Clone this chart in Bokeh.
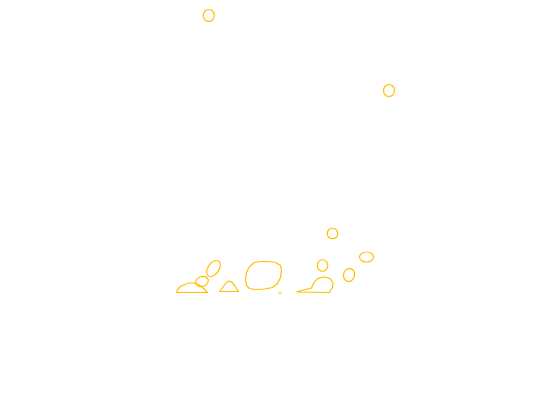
from bokeh.plotting import figure
from bokeh.models import Range1d, ColumnDataSource
from bokeh.embed import file_html
from bokeh.resources import INLINE

# Contour level outlines (data units)
ell_x = [200.3, 380.5, 324.0, 358.0, 340.5, 314.0, 193.5, 205.0]
ell_y = [377.0, 302.0, 159.0, 135.5, 117.5, 127.0, 111.0, 124.0]
ell_w = [11.0, 11.0, 10.5, 14.0, 13.0, 10.5, 13.0, 18.0]
ell_h = [12.0, 12.0, 10.5, 10.0, 11.0, 11.5, 10.0, 11.0]
ell_a = [0.0, 0.0, 0.0, 0.0, 1.33, 0.0, 0.35, 0.95]

dome_x = [168, 169, 172, 176, 181, 186, 190, 194, 197, 199, 168]
dome_y = [100, 103, 106, 108, 109.5, 109.5, 108, 105, 102, 100, 100]

tri_x = [211, 214, 218, 220.5, 223, 226, 230, 211]
tri_y = [101, 105, 110, 111.5, 110.5, 107, 101, 101]

blob_x = [237, 238, 241, 246, 252, 260, 267, 272, 273, 272, 269, 264, 256, 247, 241, 238, 237]
blob_y = [113, 120, 126, 130, 131, 131, 130, 127, 122, 115, 109, 105, 103.5, 103, 104, 107, 113]

dash_x = [270, 273]
dash_y = [99.5, 99.5]

tail_x = [288, 303, 305, 308, 312, 317, 322, 324.5, 324, 322, 321, 288]
tail_y = [100.5, 104.5, 109, 113, 115, 115.5, 113.5, 109.5, 105, 102, 100, 100.5]

COLOR = "#FFBF00"

p = figure(width=534, height=384, output_backend="svg", toolbar_location=None,
           x_range=Range1d(-8, 526), y_range=Range1d(8, 392), min_border=0)
p.axis.visible = False
p.grid.visible = False
p.outline_line_color = None

src = ColumnDataSource(dict(x=ell_x, y=ell_y, w=ell_w, h=ell_h, a=ell_a))
p.ellipse(x="x", y="y", width="w", height="h", angle="a", source=src,
          fill_alpha=0, line_color=COLOR, line_width=1.2)

p.multi_line(xs=[dome_x, tri_x, blob_x, dash_x, tail_x],
             ys=[dome_y, tri_y, blob_y, dash_y, tail_y],
             line_color=COLOR, line_width=1.2, line_join="round")

open("out.html", "w").write(file_html(p, INLINE))
